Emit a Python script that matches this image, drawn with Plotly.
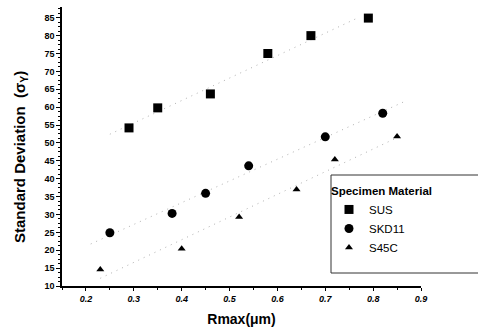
import numpy as np
import plotly.graph_objects as go

# Data
sus_x = [0.29, 0.35, 0.46, 0.58, 0.67, 0.79]
sus_y = [54.2, 59.8, 63.7, 75.0, 80.0, 84.9]
skd_x = [0.25, 0.38, 0.45, 0.54, 0.70, 0.82]
skd_y = [24.9, 30.3, 35.9, 43.6, 51.7, 58.3]
s45_x = [0.23, 0.40, 0.52, 0.64, 0.72, 0.85]
s45_y = [14.6, 20.4, 29.3, 37.0, 45.4, 51.8]
series_names = ["SUS", "SKD11", "S45C"]
fit_ranges = [(0.25, 0.77), (0.21, 0.87), (0.23, 0.86)]

x_ticks = [0.2, 0.3, 0.4, 0.5, 0.6, 0.7, 0.8, 0.9]
y_ticks = list(range(10, 90, 5))

fig = go.Figure()
symbols = ["square", "circle", "triangle-up"]
sizes = [9, 9, 7]
datasets = [(sus_x, sus_y), (skd_x, skd_y), (s45_x, s45_y)]

for (xs, ys), (x0, x1) in zip(datasets, fit_ranges):
    m, b = np.polyfit(xs, ys, 1)
    fx = np.array([x0, x1])
    fig.add_trace(go.Scatter(x=fx, y=m * fx + b, mode="lines",
                             line=dict(color="#b0b0b0", width=1, dash="1px,5px"),
                             showlegend=False, hoverinfo="skip"))

for (xs, ys), name, sym, sz in zip(datasets, series_names, symbols, sizes):
    fig.add_trace(go.Scatter(x=xs, y=ys, mode="markers", name=name,
                             marker=dict(symbol=sym, size=sz, color="black")))

L, R, T, B = 62, 57, 7, 46
pw, ph = 478 - L - R, 332 - T - B

bx0, bx1 = (331 - L) / pw, 1.3
by0, by1 = (286 - 273) / ph, (286 - 175) / ph
box_line = dict(color="#333", width=1)

axis_font = dict(family="Arial, Liberation Sans, sans-serif", size=9, color="black")
fig.update_layout(
    width=478, height=332,
    margin=dict(l=L, r=R, t=T, b=B),
    paper_bgcolor="white", plot_bgcolor="white",
    font=dict(family="Arial, Liberation Sans, sans-serif", color="black"),
    xaxis=dict(range=[0.15, 0.9], tickvals=x_ticks, ticktext=[f"<b><i>{v:g}</i></b>" for v in x_ticks],
               showline=True, linecolor="black", linewidth=1.5, ticks="outside",
               ticklen=3, tickwidth=1.2, tickcolor="black", showgrid=False, zeroline=False,
               minor=dict(dtick=0.05, ticks="outside", ticklen=2, tickcolor="black"),
               tickfont=axis_font, automargin=False,
               title=dict(text="<b>Rmax(μm)</b>", font=dict(size=14), standoff=12)),
    yaxis=dict(range=[10, 88], tickvals=y_ticks, ticktext=[f"<b>{v}</b>" for v in y_ticks],
               showline=True, linecolor="black", linewidth=1.5, ticks="outside",
               ticklen=4, tickwidth=1.2, tickcolor="black", showgrid=False, zeroline=False,
               minor=dict(dtick=1.25, ticks="outside", ticklen=2, tickcolor="black"),
               tickfont=axis_font, automargin=False),
    annotations=[dict(text="<b>Standard Deviation  (σ<sub>Y</sub>)</b>", textangle=-90,
                      xref="paper", yref="paper", x=(20 - L) / pw, y=(286 - 157) / ph,
                      xanchor="center", yanchor="middle", showarrow=False,
                      font=dict(size=15))],
    legend=dict(x=(329 - L) / pw, y=(286 - 180) / ph, xanchor="left", yanchor="top",
                bgcolor="rgba(0,0,0,0)", borderwidth=0,
                title=dict(text="<b>Specimen Material</b>", font=dict(size=11.5)),
                font=dict(size=11.5), tracegroupgap=0),
    shapes=[
        dict(type="rect", xref="paper", yref="paper", x0=bx0, x1=bx1, y0=by0, y1=by1,
             line=dict(width=0), fillcolor="white", layer="above"),
        dict(type="line", xref="paper", yref="paper", x0=bx0, x1=bx0, y0=by0, y1=by1,
             line=box_line, layer="above"),
        dict(type="line", xref="paper", yref="paper", x0=bx0, x1=bx1, y0=by0, y1=by0,
             line=box_line, layer="above"),
        dict(type="line", xref="paper", yref="paper", x0=bx0, x1=bx1, y0=by1, y1=by1,
             line=box_line, layer="above"),
    ],
)

fig.write_html("out.html", config={"displayModeBar": False},
               post_script="document.body.style.margin='0';document.body.style.overflow='hidden';")
